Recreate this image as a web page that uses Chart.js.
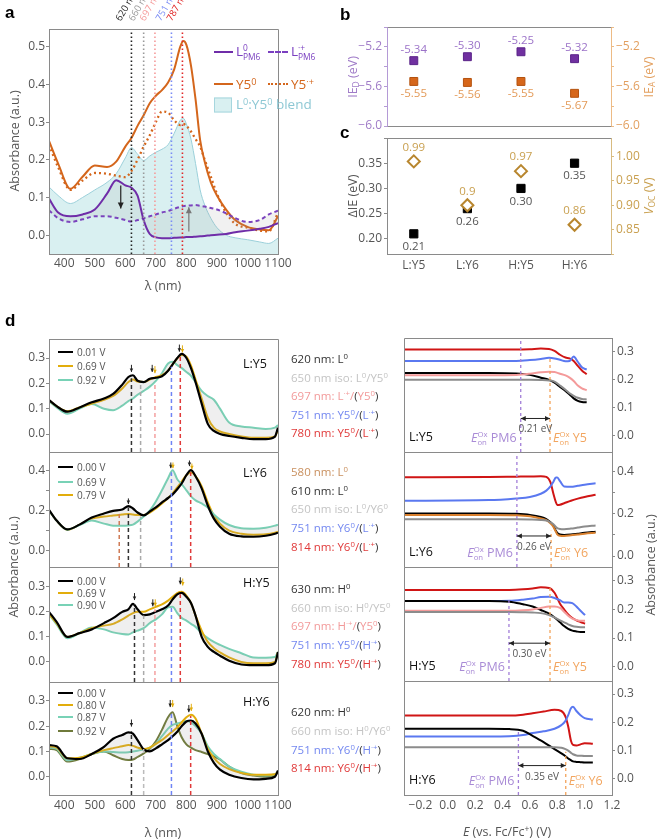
<!DOCTYPE html>
<html><head><meta charset="utf-8">
<script src="https://cdn.jsdelivr.net/npm/chart.js@4.4.1/dist/chart.umd.min.js"></script>
<style>
html,body{margin:0;padding:0;background:#fff;}
body{position:relative;width:660px;height:840px;overflow:hidden;font-family:"Open Sans",sans-serif;}
canvas{position:absolute;left:0;top:0;}
.t{position:absolute;white-space:nowrap;line-height:1;transform:translateY(-50%);}
.t sup{font-size:0.68em;vertical-align:0.5em;line-height:0;}
.t sub{font-size:0.68em;vertical-align:-0.3em;line-height:0;}
.ss{display:inline-block;vertical-align:-0.45em;font-size:0.62em;line-height:1.05;text-align:left;}
.ss span{display:block;}
</style></head><body>
<script>
// ================= DATA =================
// panel a
const aWl    = [350,380,420,460,500,540,570,600,620,640,660,680,700,720,740,760,780,790,800,815,830,845,860,880,900,930,960,1000,1040,1070,1100];
const aL0    = [0.097,0.06,0.05,0.055,0.068,0.11,0.146,0.132,0.126,0.105,0.04,0.003,-0.006,-0.008,-0.008,-0.007,-0.006,-0.006,-0.005,-0.005,-0.004,-0.003,-0.002,0.0,0.001,0.003,0.008,0.012,0.017,0.022,0.032];
const aLcat  = [0.066,0.045,0.035,0.042,0.05,0.05,0.046,0.04,0.036,0.04,0.045,0.05,0.055,0.06,0.064,0.07,0.075,0.077,0.078,0.079,0.08,0.078,0.076,0.072,0.068,0.058,0.045,0.035,0.04,0.055,0.065];
const aY5    = [0.25,0.19,0.123,0.155,0.185,0.181,0.195,0.235,0.258,0.29,0.318,0.35,0.37,0.385,0.405,0.44,0.50,0.515,0.505,0.45,0.36,0.252,0.195,0.14,0.105,0.068,0.04,0.022,0.015,0.013,0.05];
const aY5cat = [0.24,0.18,0.12,0.145,0.165,0.163,0.158,0.154,0.17,0.2,0.235,0.265,0.3,0.328,0.325,0.305,0.292,0.295,0.29,0.275,0.255,0.235,0.20,0.155,0.11,0.06,0.03,0.02,0.012,0.01,0.06];
const aBlend = [0.128,0.105,0.084,0.1,0.12,0.14,0.163,0.205,0.232,0.215,0.198,0.21,0.22,0.228,0.24,0.27,0.305,0.31,0.295,0.255,0.19,0.12,0.08,0.045,0.02,0.0,-0.007,-0.012,-0.018,-0.022,-0.008];
const aMarkNm = [620,660,697,751,787];
const aMarkLabels = ['620 nm','660 nm','697 nm','751 nm','787 nm'];

// panels b, c
const blends = ['L:Y5','L:Y6','H:Y5','H:Y6'];
const ieD  = [-5.34,-5.30,-5.25,-5.32];
const ieA  = [-5.55,-5.56,-5.55,-5.67];
const dIE  = [0.21,0.26,0.30,0.35];
const voc  = [0.99,0.90,0.97,0.86];

// panel d, left (absorbance spectra)
const dWl = [350,375,410,450,490,530,560,590,610,625,640,660,680,700,720,740,755,770,785,800,815,830,850,870,890,910,940,980,1020,1060,1090,1100];
const d1V = ['0.01 V','0.69 V','0.92 V'];
const d1a = [0.134,0.11,0.088,0.105,0.125,0.14,0.158,0.195,0.225,0.232,0.21,0.205,0.218,0.222,0.228,0.25,0.275,0.30,0.316,0.30,0.26,0.205,0.12,0.04,0.012,0.0,-0.008,-0.015,-0.02,-0.02,-0.01,0.025];
const d1b = [0.134,0.11,0.09,0.105,0.12,0.135,0.15,0.18,0.205,0.215,0.207,0.205,0.215,0.225,0.232,0.25,0.275,0.298,0.312,0.305,0.27,0.215,0.14,0.065,0.025,0.01,0.0,-0.01,-0.015,-0.015,-0.01,0.02];
const d1c = [0.13,0.105,0.08,0.1,0.118,0.1,0.094,0.112,0.13,0.14,0.155,0.17,0.187,0.21,0.24,0.278,0.285,0.272,0.26,0.245,0.23,0.205,0.17,0.15,0.135,0.1,0.045,0.03,0.025,0.02,0.025,0.035];
const d2V = ['0.00 V','0.69 V','0.79 V'];
const d2a = [0.203,0.15,0.106,0.13,0.165,0.185,0.198,0.205,0.222,0.21,0.19,0.176,0.195,0.215,0.24,0.262,0.28,0.305,0.335,0.375,0.40,0.37,0.31,0.225,0.16,0.12,0.085,0.072,0.07,0.075,0.085,0.09];
const d2b = [0.2,0.15,0.105,0.128,0.15,0.135,0.125,0.124,0.126,0.13,0.145,0.17,0.2,0.245,0.3,0.36,0.40,0.355,0.33,0.3,0.27,0.25,0.235,0.215,0.18,0.155,0.128,0.112,0.11,0.115,0.125,0.13];
const d2c = [0.2,0.15,0.105,0.13,0.16,0.17,0.175,0.18,0.183,0.18,0.178,0.178,0.19,0.21,0.235,0.262,0.285,0.315,0.345,0.375,0.388,0.37,0.32,0.24,0.175,0.135,0.1,0.085,0.08,0.082,0.09,0.095];
const d3V = ['0.00 V','0.69 V','0.90 V'];
const d3a = [0.2,0.16,0.1,0.115,0.13,0.155,0.175,0.2,0.21,0.232,0.21,0.187,0.19,0.2,0.21,0.225,0.25,0.27,0.276,0.26,0.235,0.185,0.1,0.06,0.04,0.025,0.005,-0.01,-0.013,-0.013,-0.005,0.04];
const d3b = [0.193,0.155,0.1,0.115,0.135,0.145,0.152,0.17,0.185,0.195,0.2,0.2,0.21,0.22,0.23,0.245,0.26,0.275,0.28,0.265,0.235,0.185,0.125,0.08,0.055,0.038,0.018,0.0,-0.005,-0.005,0.0,0.04];
const d3c = [0.19,0.15,0.095,0.115,0.138,0.13,0.118,0.112,0.11,0.118,0.125,0.135,0.155,0.17,0.19,0.218,0.22,0.195,0.175,0.165,0.152,0.14,0.115,0.095,0.08,0.068,0.052,0.035,0.018,0.017,0.02,0.04];
const d4V = ['0.00 V','0.80 V','0.87 V','0.92 V'];
const d4a = [0.125,0.12,0.073,0.07,0.09,0.118,0.15,0.165,0.175,0.17,0.145,0.108,0.1,0.112,0.128,0.145,0.16,0.178,0.2,0.218,0.222,0.21,0.17,0.1,0.055,0.028,0.008,-0.005,-0.01,-0.008,0.0,0.025];
const d4b = [0.12,0.115,0.073,0.075,0.09,0.105,0.113,0.12,0.125,0.122,0.115,0.11,0.115,0.13,0.145,0.165,0.18,0.195,0.215,0.235,0.245,0.23,0.17,0.11,0.075,0.05,0.03,0.015,0.008,0.008,0.01,0.02];
const d4c = [0.115,0.11,0.065,0.075,0.09,0.1,0.098,0.096,0.097,0.1,0.103,0.107,0.115,0.13,0.16,0.19,0.205,0.21,0.215,0.22,0.215,0.2,0.17,0.12,0.09,0.07,0.04,0.02,0.008,0.005,0.01,0.02];
const d4d = [0.11,0.105,0.06,0.07,0.09,0.1,0.085,0.07,0.066,0.068,0.078,0.092,0.11,0.14,0.185,0.235,0.255,0.2,0.155,0.128,0.115,0.105,0.098,0.09,0.08,0.068,0.04,0.015,0.005,0.0,0.005,0.02];
const d1Mark = [620,650,697,751,780], d1Top = [0.22,0.195,0.2,0.265,0.305];
const d2Mark = [580,610,650,751,814], d2Top = [0.19,0.215,0.17,0.39,0.39];
const d3Mark = [630,660,697,751,780], d3Top = [0.23,0.185,0.21,0.215,0.27];
const d4Mark = [620,660,751,814],     d4Top = [0.18,0.11,0.25,0.24];
// small peak arrows (wavelength, tip absorbance, 0 = black / 1 = gold)
const d1ArrNm = [620,688,697,777,787], d1ArrY = [0.245,0.245,0.24,0.325,0.322], d1ArrC = [0,0,1,0,1];
const d2ArrNm = [610,749,756,810,818], d2ArrY = [0.232,0.41,0.41,0.42,0.405], d2ArrC = [0,0,1,0,1];
const d3ArrNm = [630,690,698,780,788], d3ArrY = [0.247,0.222,0.222,0.31,0.305], d3ArrC = [0,0,1,0,1];
const d4ArrNm = [620,747,755,808,816], d4ArrY = [0.198,0.275,0.275,0.255,0.26], d4ArrC = [0,0,1,0,1];

// panel d, right (absorbance vs potential)
const r1E = [-0.32,0.3,0.5,0.6,0.68,0.74,0.78,0.82,0.86,0.89,0.92,0.95,0.98,1.015];
const r1Red  = [0.309,0.309,0.309,0.31,0.312,0.311,0.304,0.29,0.28,0.277,0.268,0.25,0.234,0.22];
const r1Blue = [0.268,0.268,0.268,0.271,0.275,0.279,0.277,0.272,0.267,0.268,0.284,0.265,0.245,0.237];
const r1Blk  = [0.225,0.225,0.223,0.218,0.208,0.2,0.19,0.175,0.16,0.148,0.134,0.125,0.121,0.12];
const r1Pink = [0.217,0.217,0.218,0.222,0.227,0.229,0.228,0.222,0.216,0.208,0.196,0.18,0.17,0.163];
const r1Gray = [0.201,0.201,0.201,0.201,0.2,0.198,0.194,0.18,0.165,0.152,0.143,0.136,0.132,0.13];
const r2E = [-0.32,0.3,0.5,0.6,0.68,0.72,0.75,0.77,0.79,0.80,0.82,0.85,0.9,0.95,1.0,1.08];
const r2Red  = [0.373,0.374,0.376,0.377,0.378,0.375,0.35,0.3,0.255,0.242,0.243,0.25,0.262,0.272,0.28,0.29];
const r2Blue = [0.262,0.265,0.273,0.28,0.295,0.31,0.33,0.35,0.372,0.372,0.355,0.33,0.328,0.333,0.338,0.345];
const r2Blk  = [0.202,0.202,0.2,0.195,0.185,0.175,0.16,0.145,0.12,0.11,0.102,0.1,0.102,0.106,0.11,0.115];
const r2Tan  = [0.195,0.195,0.193,0.188,0.178,0.17,0.155,0.14,0.115,0.103,0.096,0.095,0.098,0.102,0.106,0.11];
const r2Gray = [0.174,0.174,0.174,0.173,0.171,0.168,0.16,0.152,0.138,0.132,0.128,0.127,0.13,0.135,0.14,0.145];
const r3E = [-0.32,0.3,0.45,0.55,0.62,0.68,0.74,0.78,0.82,0.85,0.88,0.91,0.94,0.97,1.003];
const r3Red  = [0.268,0.268,0.268,0.27,0.273,0.277,0.275,0.258,0.22,0.2,0.182,0.17,0.162,0.156,0.15];
const r3Blue = [0.229,0.229,0.23,0.234,0.238,0.243,0.244,0.24,0.232,0.224,0.224,0.222,0.21,0.195,0.18];
const r3Blk  = [0.229,0.229,0.227,0.218,0.21,0.198,0.185,0.172,0.155,0.142,0.132,0.126,0.123,0.121,0.121];
const r3Pink = [0.195,0.195,0.195,0.197,0.2,0.205,0.21,0.21,0.205,0.192,0.178,0.168,0.163,0.16,0.16];
const r3Gray = [0.191,0.191,0.191,0.19,0.189,0.187,0.18,0.172,0.162,0.155,0.148,0.142,0.139,0.138,0.138];
const r4E = [-0.32,0.3,0.45,0.55,0.62,0.7,0.78,0.83,0.86,0.88,0.9,0.915,0.94,0.97,1.0,1.06];
const r4Red  = [0.224,0.224,0.224,0.227,0.232,0.238,0.244,0.24,0.22,0.185,0.135,0.12,0.118,0.122,0.126,0.124];
const r4Blue = [0.15,0.15,0.151,0.155,0.162,0.168,0.177,0.19,0.205,0.225,0.25,0.255,0.24,0.225,0.215,0.21];
const r4Blk  = [0.177,0.177,0.176,0.17,0.152,0.13,0.105,0.09,0.08,0.072,0.066,0.062,0.06,0.059,0.058,0.058];
const r4Gray = [0.112,0.112,0.112,0.112,0.112,0.112,0.112,0.11,0.105,0.1,0.092,0.087,0.083,0.082,0.081,0.081];
const onsetPM6 = [0.533,0.505,0.447,0.516];
const onsetAcc = [0.747,0.755,0.747,0.862];
const onsetPM6Top = [0.35,0.49,0.232,0.173];
const onsetAccTop = [0.28,0.12,0.277,0.096];
const onsetGap = ['0.21 eV','0.26 eV','0.30 eV','0.35 eV'];

// ================= SETUP =================
const AX = '#8a8a8a';
Chart.defaults.font.family = '"Open Sans", sans-serif';
Chart.defaults.font.size = 12;
Chart.defaults.color = '#555';
Chart.defaults.animation = false;
Chart.defaults.responsive = false;
Chart.defaults.devicePixelRatio = 1;
Chart.defaults.plugins.legend.display = false;
Chart.defaults.plugins.tooltip.enabled = false;
Chart.defaults.elements.point.radius = 0;
Chart.defaults.elements.line.borderWidth = 1.8;
Chart.defaults.elements.line.cubicInterpolationMode = 'monotone';

Chart.register({
  id:'vl',
  afterDatasetsDraw(ch,_a,o){
    if(!o || !o.items) return;
    const c=ch.ctx, xs=ch.scales.x, ys=ch.scales[o.axis||'y'], A=ch.chartArea;
    c.save(); c.beginPath(); c.rect(A.left,A.top,A.right-A.left,A.bottom-A.top); c.clip();
    for(const it of o.items){
      const x=xs.getPixelForValue(it.x);
      const y0=it.y0==null?A.bottom:ys.getPixelForValue(it.y0);
      const y1=it.y1==null?A.top:ys.getPixelForValue(it.y1);
      c.strokeStyle=it.color; c.lineWidth=it.w||1.5; c.setLineDash(it.dash||[]);
      c.beginPath(); c.moveTo(x,y0); c.lineTo(x,y1); c.stroke();
    }
    c.restore();
  }
});
Chart.register({
  id:'arr',
  afterDatasetsDraw(ch,_a,o){
    if(!o || !o.items) return;
    const c=ch.ctx, xs=ch.scales.x, ys=ch.scales.y;
    c.save();
    const head=(x,y,ang,col,s)=>{c.fillStyle=col;c.beginPath();c.moveTo(x,y);
      c.lineTo(x-s*Math.cos(ang)+s/2*Math.sin(ang), y-s*Math.sin(ang)-s/2*Math.cos(ang));
      c.lineTo(x-s*Math.cos(ang)-s/2*Math.sin(ang), y-s*Math.sin(ang)+s/2*Math.cos(ang));c.closePath();c.fill();};
    for(const it of o.items){
      const x0=xs.getPixelForValue(it.x0), x1=xs.getPixelForValue(it.x1);
      const y0=ys.getPixelForValue(it.y0), y1=ys.getPixelForValue(it.y1);
      c.strokeStyle=it.color; c.lineWidth=it.w||1.2; c.setLineDash([]);
      c.beginPath(); c.moveTo(x0,y0); c.lineTo(x1,y1); c.stroke();
      const ang=Math.atan2(y1-y0,x1-x0), s=it.s||6;
      head(x1,y1,ang,it.color,s);
      if(it.both) head(x0,y0,ang+Math.PI,it.color,s);
    }
    c.restore();
  }
});
Chart.register({
  id:'vlab',
  afterDatasetsDraw(ch){
    const c=ch.ctx;
    ch.data.datasets.forEach((ds,i)=>{
      if(!ds.vlab) return;
      const meta=ch.getDatasetMeta(i);
      c.save(); c.font='11.5px "Open Sans", sans-serif'; c.fillStyle=ds.vlab.color; c.textAlign='center'; c.textBaseline='middle';
      meta.data.forEach((p,j)=>{ c.fillText(ds.vlab.texts[j], p.x, p.y+ds.vlab.dy); });
      c.restore();
    });
  }
});
Chart.register({
  id:'frame',
  afterDatasetsDraw(ch,_a,o){
    if(!o || !o.on) return;
    const A=ch.chartArea, c=ch.ctx, f=p=>Math.round(p-0.5)+0.5;
    const L=f(A.left),R=f(A.right),T=f(A.top),B=f(A.bottom);
    c.save(); c.lineWidth=1; c.setLineDash([]);
    const seg=(col,x0,y0,x1,y1)=>{c.strokeStyle=col;c.beginPath();c.moveTo(x0,y0);c.lineTo(x1,y1);c.stroke();};
    seg(o.top||AX,L,T,R,T); seg(o.bottom||AX,L,B,R,B); seg(o.left||AX,L,T,L,B); seg(o.right||AX,R,T,R,B);
    c.restore();
  }
});

function pts(xs,ys){ return xs.map((x,i)=>({x:x,y:ys[i]})); }
function mk(box,lw,rw,bh,cfg){
  const cv=document.createElement('canvas'); cv.width=660; cv.height=840; document.body.appendChild(cv);
  cfg.options.layout={padding:{left:box.l-lw,top:box.t,right:660-box.r-rw,bottom:840-box.b-bh}};
  return new Chart(cv.getContext('2d'),cfg);
}
function yAx(o){
  return {type:'linear',position:o.pos||'left',min:o.min,max:o.max,
    afterFit(s){s.width=o.w;},
    border:{display:true,color:o.bc||AX,width:1},
    grid:{drawOnChartArea:false,drawTicks:true,tickLength:3,color:o.bc||AX},
    ticks:{stepSize:o.step,includeBounds:false,autoSkip:false,padding:o.pad==null?1:o.pad,color:o.tc||'#555',font:{size:o.fs||12},callback:o.cb}};
}
function xAx(o){
  const show=o.show!==false;
  return {type:'linear',position:'bottom',min:o.min,max:o.max,display:show,
    afterFit(s){s.height=show?(o.h||0):0;},
    border:{display:true,color:AX},
    grid:{drawOnChartArea:false,drawTicks:false,color:AX},
    ticks:{stepSize:o.step,includeBounds:false,autoSkip:false,maxRotation:0,minRotation:0,padding:o.pad||2,color:o.tc||'#555',font:{size:o.fs||12},callback:o.cb}};
}
const near=(v,list)=>list.some(q=>Math.abs(v-q)<1e-6);
const minus=v=>(v<-1e-9?'\u2212':'')+Math.abs(v).toFixed(1);
function T(html,x,y,css){const d=document.createElement('div');d.className='t';d.innerHTML=html;d.style.left=x+'px';d.style.top=y+'px';if(css)d.style.cssText+=';'+css;document.body.appendChild(d);return d;}

// ================= PANEL a =================
const chA = mk({l:49,t:29,r:278,b:254},40,0,22,{type:'line',
  data:{datasets:[
    {data:pts(aWl,aL0),borderColor:'#6f2da8',borderWidth:2,fill:1,backgroundColor:'rgba(150,150,150,0.13)',order:1},
    {data:pts(aWl,aLcat),borderColor:'#7a3fc0',borderDash:[4,3],borderWidth:2,order:2},
    {data:pts(aWl,aY5),borderColor:'#d4661c',borderWidth:2,order:3},
    {data:pts(aWl,aY5cat),borderColor:'#d4661c',borderDash:[2,3],borderWidth:2.3,order:4},
    {data:pts(aWl,aBlend),borderColor:'#9bd0da',borderWidth:1,fill:'start',backgroundColor:'#d9f0f1',order:10}
  ]},
  options:{
    scales:{x:xAx({min:350,max:1100,step:50,h:22,pad:2,cb:v=>(v%100===0&&v>=400)?String(v):''}),
            y:yAx({min:-0.05,max:0.547,step:0.1,w:40,cb:v=>v>-1e-6?v.toFixed(1):''})},
    plugins:{frame:{on:true},
      vl:{items:aMarkNm.map((n,i)=>({x:n,color:['#222','#999','#f59a9a','#7a8cf5','#e02828'][i],dash:[1.5,2.5],w:1.6}))},
      arr:{items:[{x0:585,y0:0.132,x1:585,y1:0.071,color:'#222'},{x0:808,y0:0.01,x1:808,y1:0.074,color:'#777'}]}}
  }});

// ================= PANEL b =================
const xCat = v=>{const k=Math.round(v); return Math.abs(v-k)<1e-6&&k>=1&&k<=4?blends[k-1]:'';};
mk({l:387,t:27,r:611,b:126},40,40,0,{type:'line',
  data:{datasets:[
    {data:pts([1,2,3,4],ieD),showLine:false,pointStyle:'rect',pointRadius:5.6,backgroundColor:'#7030a0',borderColor:'#5a2388',borderWidth:1,
      vlab:{dy:-11,color:'#9b72c8',texts:ieD.map(v=>v.toFixed(2))}},
    {data:pts([1,2,3,4],ieA),yAxisID:'y2',showLine:false,pointStyle:'rect',pointRadius:5.6,backgroundColor:'#d6661a',borderColor:'#b4520f',borderWidth:1,
      vlab:{dy:12,color:'#e39a58',texts:ieA.map(v=>v.toFixed(2))}}
  ]},
  options:{scales:{
    x:xAx({show:false,min:0.5,max:4.68,step:0.5}),
    y:yAx({min:-6,max:-5,step:0.2,w:40,pad:2,bc:'#b49ad6',tc:'#a07cc8',cb:v=>near(v,[-5.2,-5.6,-6.0])?minus(v):''}),
    y2:yAx({pos:'right',min:-6,max:-5,step:0.2,w:40,pad:2,bc:'#edbb85',tc:'#e3a060',cb:v=>near(v,[-5.2,-5.6,-6.0])?minus(v):''})},
    plugins:{frame:{on:true,left:'#b49ad6',right:'#edbb85'}}}});

// ================= PANEL c =================
mk({l:387,t:138,r:611,b:254},40,40,22,{type:'line',
  data:{datasets:[
    {data:pts([1,2,3,4],voc),yAxisID:'y2',showLine:false,pointStyle:'rectRot',pointRadius:6,backgroundColor:'#fff',borderColor:'#b8862e',borderWidth:2,order:0,
      vlab:{dy:-14,color:'#c9a050',texts:voc.map(v=>String(v))}},
    {data:pts([1,2,3,4],dIE),showLine:false,pointStyle:'rect',pointRadius:5.8,backgroundColor:'#000',borderColor:'#000',order:1,
      vlab:{dy:13,color:'#555',texts:dIE.map(v=>v.toFixed(2))}}
  ]},
  options:{scales:{
    x:xAx({min:0.5,max:4.68,step:0.5,h:22,pad:4,cb:xCat}),
    y:yAx({min:0.17,max:0.40,step:0.05,w:40,pad:2,cb:v=>(v>0.19&&v<0.36)?v.toFixed(2):''}),
    y2:yAx({pos:'right',min:0.80,max:1.038,step:0.05,w:40,pad:2,bc:'#d8bb80',tc:'#c9a050',cb:v=>(v>0.84&&v<1.01)?v.toFixed(2):''})},
    plugins:{frame:{on:true,right:'#d8bb80'}}}});

// ================= PANEL d left =================
const GOLD='#e2ad0c', TEAL='#78d2b6', OLIVE='#6f7a3b';
function dPanel(box,ymin,ymax,labs,series,cols,widths,fanTo,marks,tops,mcols,arrNm,arrY,arrC,showX){
  const ds=series.map((s,i)=>({data:pts(dWl,s),borderColor:cols[i],borderWidth:widths[i],order:i}));
  ds[0].fill=fanTo; ds[0].backgroundColor='rgba(160,160,160,0.17)';
  return mk(box,40,0,showX?22:0,{type:'line',data:{datasets:ds},
    options:{scales:{
      x:xAx({show:showX,min:350,max:1100,step:50,h:22,pad:3,cb:v=>(v%100===0&&v>=400)?String(v):''}),
      y:yAx({min:ymin,max:ymax,step:0.1,w:40,cb:v=>near(v,labs)?v.toFixed(1):''})},
      plugins:{frame:{on:true},
        vl:{items:marks.map((m,i)=>({x:m,y0:ymin,y1:tops[i],color:mcols[i],dash:[4,3],w:1.5}))},
        arr:{items:arrNm.map((n,i)=>({x0:n,y0:arrY[i]+0.028,x1:n,y1:arrY[i],color:arrC[i]?GOLD:'#222',w:1,s:3.5}))}}}});
}
const M5=['#333','#aaa','#f4a0a0','#6f84f5','#e03a3a'];
dPanel({l:49,t:339,r:278,b:452},-0.071,0.375,[0,0.1,0.2,0.3],[d1a,d1b,d1c],['#000',GOLD,TEAL],[2.2,2,2],2,d1Mark,d1Top,M5,d1ArrNm,d1ArrY,d1ArrC,false);
dPanel({l:49,t:452,r:278,b:567},-0.08,0.49,[0,0.2,0.4],[d2a,d2b,d2c],['#000',TEAL,GOLD],[2.2,2,2],1,d2Mark,d2Top,['#d07a55','#333','#aaa','#6f84f5','#e03a3a'],d2ArrNm,d2ArrY,d2ArrC,false);
dPanel({l:49,t:567,r:278,b:682},-0.08,0.379,[0,0.1,0.2,0.3],[d3a,d3b,d3c],['#000',GOLD,TEAL],[2.2,2,2],2,d3Mark,d3Top,M5,d3ArrNm,d3ArrY,d3ArrC,false);
dPanel({l:49,t:682,r:278,b:795},-0.072,0.374,[0,0.1,0.2,0.3],[d4a,d4b,d4c,d4d],['#000',GOLD,TEAL,OLIVE],[2.2,2,2,2],3,d4Mark,d4Top,['#333','#bbb','#6f84f5','#e03a3a'],d4ArrNm,d4ArrY,d4ArrC,true);

// ================= PANEL d right =================
const RED='#d01515', BLUE='#5a78f0', PINK='#f49a9a', GRAY='#8c8c8c', TAN='#d9802e';
const rCharts=[];
const arrY=[0.062,0.095,0.082,0.047];
function rPanel(box,ymin,ymax,labs,E,series,cols,k,showX){
  const ds=series.map((s,i)=>({data:pts(E,s),borderColor:cols[i],borderWidth:2}));
  const ch=mk(box,0,40,showX?22:0,{type:'line',data:{datasets:ds},
    options:{scales:{
      x:xAx({show:showX,min:-0.32,max:1.2,step:0.2,h:22,pad:3,cb:minus}),
      y:yAx({pos:'right',min:ymin,max:ymax,step:0.1,w:40,pad:2,cb:v=>near(v,labs)?v.toFixed(1):''})},
      plugins:{frame:{on:true},
        vl:{items:[{x:onsetPM6[k],y0:ymin,y1:onsetPM6Top[k],color:'#a27ed8',dash:[3,3],w:1.3},{x:onsetAcc[k],y0:ymin,y1:onsetAccTop[k],color:'#f3a35a',dash:[3,3],w:1.3}]},
        arr:{items:[{x0:onsetPM6[k],y0:arrY[k],x1:onsetAcc[k],y1:arrY[k],color:'#222',w:1,both:true,s:5}]}}}});
  rCharts.push(ch); return ch;
}
rPanel({l:404,t:338,r:612,b:452},-0.058,0.35,[0,0.1,0.2,0.3],r1E,[r1Gray,r1Pink,r1Blk,r1Blue,r1Red],[GRAY,PINK,'#000',BLUE,RED],0,false);
rPanel({l:404,t:452,r:612,b:567},-0.052,0.493,[0,0.2,0.4],r2E,[r2Gray,r2Tan,r2Blk,r2Blue,r2Red],[GRAY,TAN,'#000',BLUE,RED],1,false);
rPanel({l:404,t:567,r:612,b:681},-0.05,0.348,[0,0.1,0.2,0.3],r3E,[r3Gray,r3Pink,r3Blk,r3Blue,r3Red],[GRAY,PINK,'#000',BLUE,RED],2,false);
rPanel({l:404,t:681,r:612,b:795},-0.057,0.346,[0,0.1,0.2,0.3],r4E,[r4Gray,r4Blk,r4Blue,r4Red],[GRAY,'#000',BLUE,RED],3,true);
rCharts.forEach((ch,k)=>{
  const xs=ch.scales.x, ys=ch.scales.y;
  const xm=(xs.getPixelForValue(onsetPM6[k])+xs.getPixelForValue(onsetAcc[k]))/2;
  T(onsetGap[k],xm,ys.getPixelForValue(arrY[k])+10,'transform:translate(-50%,-50%);font-size:10px;color:#555');
  const py=ch.chartArea.bottom-14;
  T('<i>E</i><span class="ss"><span>Ox</span><span>on</span></span> PM6',xs.getPixelForValue(onsetPM6[k])-4,py,'transform:translate(-100%,-50%);font-size:12.5px;color:#a98bd6');
  T('<i>E</i><span class="ss"><span>Ox</span><span>on</span></span> '+['Y5','Y6','Y5','Y6'][k],xs.getPixelForValue(onsetAcc[k])+3,py,'font-size:12.5px;color:#f2a55f');
  T(blends[k],409,ch.chartArea.bottom-15,'font-size:12.5px;color:#111');
});

// ================= TEXT =================
const LET='font-weight:bold;font-size:17px;color:#000;font-family:"Liberation Sans",Arial,sans-serif';
T('a',5,12,LET); T('b',340,14,LET); T('c',340,132,LET); T('d',5,320,LET);
T('Absorbance (a.u.)',15,141,'transform:translate(-50%,-50%) rotate(-90deg);font-size:12.5px;color:#555');
T('\u03bb (nm)',163,286,'transform:translate(-50%,-50%);font-size:12.5px;color:#555');
T('IE<sub>D</sub> (eV)',353,77,'transform:translate(-50%,-50%) rotate(-90deg);font-size:12.5px;color:#a07cc8');
T('IE<sub>A</sub> (eV)',649,77,'transform:translate(-50%,-50%) rotate(-90deg);font-size:12.5px;color:#e3a060');
T('\u0394IE (eV)',353,196,'transform:translate(-50%,-50%) rotate(-90deg);font-size:12.5px;color:#555');
T('<i>V</i><sub>OC</sub> (V)',649,196,'transform:translate(-50%,-50%) rotate(-90deg);font-size:12.5px;color:#c9a050');
T('Absorbance (a.u.)',14,567,'transform:translate(-50%,-50%) rotate(-90deg);font-size:12.5px;color:#555');
T('\u03bb (nm)',163,833,'transform:translate(-50%,-50%);font-size:12.5px;color:#555');
T('Absorbance (a.u.)',651,565,'transform:translate(-50%,-50%) rotate(-90deg);font-size:12.5px;color:#555');
T('<i>E</i> (vs. Fc/Fc<sup>+</sup>) (V)',507,832,'transform:translate(-50%,-50%);font-size:12.5px;color:#555');

// rotated wavelength labels, panel a
const aMarkCol=['#222','#999','#f59a9a','#7a8cf5','#e02828'];
aMarkNm.forEach((n,i)=>{
  const x=chA.scales.x.getPixelForValue(n);
  T(aMarkLabels[i],x-9,13,'transform:rotate(-60deg);transform-origin:0 100%;font-size:9.5px;color:'+aMarkCol[i]);
});
// legend panel a
T('',214,52,'width:19px;border-top:2px solid #6f2da8');
T('L<span class="ss"><span>0</span><span>PM6</span></span>',236,53,'font-size:13.5px;color:#7a3fc0');
T('',268,52,'width:20px;border-top:2px dashed #7a3fc0');
T('L<span class="ss"><span>\u00b7+</span><span>PM6</span></span>',291,53,'font-size:13.5px;color:#7a3fc0');
T('',214,84,'width:19px;border-top:2px solid #d4661c');
T('Y5<sup>0</sup>',236,85,'font-size:13.5px;color:#d4661c');
T('',268,84,'width:20px;border-top:2.5px dotted #d4661c');
T('Y5<sup>\u00b7+</sup>',291,85,'font-size:13.5px;color:#d4661c');
T('',214,105,'width:18px;height:15px;background:#d9f0f1;border:1px solid #a6d6de;box-sizing:border-box');
T('L<sup>0</sup>:Y5<sup>0</sup> blend',236,105,'font-size:13.5px;color:#8ec8d4');

// legends in d
function dLeg(ys,labels,cols){ys.forEach((y,i)=>{T('',58,y,'width:15px;border-top:2.5px solid '+cols[i]);T(labels[i],77,y,'font-size:10px;color:#555');});}
dLeg([352,366,380],d1V,['#000',GOLD,TEAL]);
dLeg([467,481.7,495],d2V,['#000',TEAL,GOLD]);
dLeg([580.7,592.7,605],d3V,['#000',GOLD,TEAL]);
dLeg([693.3,705,717.3,730.7],d4V,['#000',GOLD,TEAL,OLIVE]);
T('L:Y5',243,364,'font-size:12.5px;color:#111');
T('L:Y6',243,473,'font-size:12.5px;color:#111');
T('H:Y5',243,583,'font-size:12.5px;color:#111');
T('H:Y6',243,702,'font-size:12.5px;color:#111');

// middle column
const K='#333', LG='#c4c4c4', PK='#f29a9a', BL='#7488f0', RD='#e03a3a';
const sp=(c,h)=>'<span style="color:'+c+'">'+h+'</span>';
const mid=[
 [359,sp(K,'620 nm: L<sup>0</sup>')],
 [377.5,sp(LG,'650 nm iso: L<sup>0</sup>/Y5<sup>0</sup>')],
 [396,sp(PK,'697 nm: L<sup>\u00b7+</sup>/')+sp(K,'(')+sp(PK,'Y5<sup>0</sup>')+sp(K,')')],
 [414.5,sp(BL,'751 nm: Y5<sup>0</sup>/')+sp(K,'(')+sp(BL,'L<sup>\u00b7+</sup>')+sp(K,')')],
 [433,sp(RD,'780 nm: Y5<sup>0</sup>/')+sp(K,'(')+sp(RD,'L<sup>\u00b7+</sup>')+sp(K,')')],
 [471.7,sp('#c9905f','580 nm: L<sup>0</sup>')],
 [490.7,sp(K,'610 nm: L<sup>0</sup>')],
 [509,sp(LG,'650 nm iso: L<sup>0</sup>/Y6<sup>0</sup>')],
 [527.7,sp(BL,'751 nm: Y6<sup>0</sup>/')+sp(K,'(')+sp(BL,'L<sup>\u00b7+</sup>')+sp(K,')')],
 [546.7,sp(RD,'814 nm: Y6<sup>0</sup>/')+sp(K,'(')+sp(RD,'L<sup>\u00b7+</sup>')+sp(K,')')],
 [589,sp(K,'630 nm: H<sup>0</sup>')],
 [607.5,sp(LG,'660 nm iso: H<sup>0</sup>/Y5<sup>0</sup>')],
 [626,sp(PK,'697 nm: H<sup>\u00b7+</sup>/')+sp(K,'(')+sp(PK,'Y5<sup>0</sup>')+sp(K,')')],
 [645,sp(BL,'751 nm: Y5<sup>0</sup>/')+sp(K,'(')+sp(BL,'H<sup>\u00b7+</sup>')+sp(K,')')],
 [663.5,sp(RD,'780 nm: Y5<sup>0</sup>/')+sp(K,'(')+sp(RD,'H<sup>\u00b7+</sup>')+sp(K,')')],
 [712,sp(K,'620 nm: H<sup>0</sup>')],
 [730.7,sp(LG,'660 nm iso: H<sup>0</sup>/Y6<sup>0</sup>')],
 [750,sp(BL,'751 nm: Y6<sup>0</sup>/')+sp(K,'(')+sp(BL,'H<sup>\u00b7+</sup>')+sp(K,')')],
 [768,sp(RD,'814 nm: Y6<sup>0</sup>/')+sp(K,'(')+sp(RD,'H<sup>\u00b7+</sup>')+sp(K,')')]
];
mid.forEach(m=>T(m[1],291,m[0],'font-size:11.5px'));
</script>
</body></html>
